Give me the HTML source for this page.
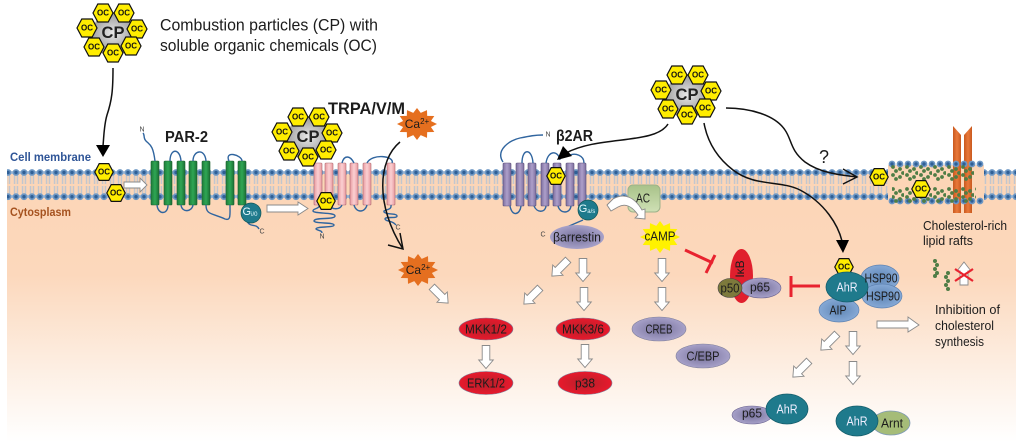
<!DOCTYPE html>
<html><head><meta charset="utf-8"><style>
html,body{margin:0;padding:0;background:#fff}
svg{display:block}
text{font-family:"Liberation Sans",sans-serif;text-anchor:middle;dominant-baseline:central;fill:#1c1c1c}
.oc{font-size:8px;font-weight:bold;fill:#111}
.cp{font-size:16.5px;font-weight:bold;fill:#222}
.l{text-anchor:start;dominant-baseline:auto}
.m{font-size:13px}
.hex{fill:#ffed00;stroke:#111;stroke-width:1.2}
.loop{fill:none;stroke:#30659f;stroke-width:1.4}
.bl{fill:none;stroke:#111;stroke-width:1.5}
.ar{fill:#fff;stroke:#8a8a8a;stroke-width:.9}
.tiny{font-size:7px;fill:#444}
</style></head><body>
<svg width="1024" height="442" viewBox="0 0 1024 442" xmlns="http://www.w3.org/2000/svg">
<defs>
<linearGradient id="cyt" x1="0" y1="0" x2="0" y2="1"><stop offset="0" stop-color="#fcd5b6"/><stop offset=".38" stop-color="#fcd8bc"/><stop offset=".72" stop-color="#fdeee2"/><stop offset="1" stop-color="#fff"/></linearGradient>
<radialGradient id="gray"><stop offset="0" stop-color="#e8e8e8"/><stop offset="1" stop-color="#9a9a9a"/></radialGradient>
<radialGradient id="red"><stop offset="0" stop-color="#b5202a"/><stop offset="1" stop-color="#e8192c"/></radialGradient>
<radialGradient id="pur"><stop offset="0" stop-color="#75709a"/><stop offset="1" stop-color="#a7a1c9"/></radialGradient>
<radialGradient id="blu"><stop offset="0" stop-color="#5f86b5"/><stop offset="1" stop-color="#86a9d6"/></radialGradient>
<linearGradient id="gr" x1="0" x2="1" y1="0" y2="0"><stop offset="0" stop-color="#1e7d3a"/><stop offset=".5" stop-color="#2fa654"/><stop offset="1" stop-color="#1a7034"/></linearGradient>
<linearGradient id="pk" x1="0" x2="1" y1="0" y2="0"><stop offset="0" stop-color="#e89aa0"/><stop offset=".5" stop-color="#fbd0d2"/><stop offset="1" stop-color="#e89aa0"/></linearGradient>
<linearGradient id="pp" x1="0" x2="1" y1="0" y2="0"><stop offset="0" stop-color="#7d6f9f"/><stop offset=".5" stop-color="#ad9fca"/><stop offset="1" stop-color="#7d6f9f"/></linearGradient>
<linearGradient id="org" x1="0" x2="1" y1="0" y2="0"><stop offset="0" stop-color="#c9591f"/><stop offset=".5" stop-color="#e9793a"/><stop offset="1" stop-color="#c9591f"/></linearGradient>
<linearGradient id="acg" x1="0" x2="0" y1="0" y2="1"><stop offset="0" stop-color="#a8c289"/><stop offset="1" stop-color="#cfe0b5"/></linearGradient>
<pattern id="lip" x="4" y="166" width="8" height="38" patternUnits="userSpaceOnUse">
<rect x="1.8" y="9" width="1.5" height="9" fill="#c2c6ce"/><rect x="4.7" y="9" width="1.5" height="9" fill="#c2c6ce"/>
<rect x="1.8" y="20" width="1.5" height="8" fill="#c2c6ce"/><rect x="4.7" y="20" width="1.5" height="8" fill="#c2c6ce"/>
<rect x="0" y="5" width="8" height="3" fill="#a9bfd8"/><rect x="0" y="29" width="8" height="3" fill="#a9bfd8"/>
<circle cx="4" cy="6.5" r="3.4" fill="#6d97c4"/><circle cx="4" cy="30.7" r="3.4" fill="#6d97c4"/>
<circle cx="4" cy="6.5" r="1.7" fill="#2f5f96"/><circle cx="4" cy="30.7" r="1.7" fill="#2f5f96"/>
</pattern>
<pattern id="raftT" x="888" y="160" width="8" height="8" patternUnits="userSpaceOnUse">
<circle cx="4" cy="4" r="3.4" fill="#6d97c4"/><circle cx="4" cy="4" r="1.7" fill="#2f5f96"/></pattern>
<pattern id="raftB" x="888" y="197" width="8" height="8" patternUnits="userSpaceOnUse">
<circle cx="4" cy="4" r="3.4" fill="#6d97c4"/><circle cx="4" cy="4" r="1.7" fill="#2f5f96"/></pattern>
<pattern id="chol1" x="890" y="165" width="14" height="18" patternUnits="userSpaceOnUse">
<g fill="#4f7d46"><circle cx="3" cy="2" r="1.9"/><circle cx="6" cy="6" r="1.9"/><circle cx="3" cy="10" r="1.9"/><circle cx="6" cy="14" r="1.9"/><circle cx="10" cy="4" r="1.9"/><circle cx="13" cy="8" r="1.9"/><circle cx="10" cy="12" r="1.9"/></g>
</pattern>
<pattern id="chol2" x="890" y="187" width="14" height="18" patternUnits="userSpaceOnUse">
<g fill="#4f7d46"><circle cx="3" cy="2" r="1.9"/><circle cx="6" cy="6" r="1.9"/><circle cx="3" cy="10" r="1.9"/><circle cx="6" cy="14" r="1.9"/><circle cx="10" cy="4" r="1.9"/><circle cx="13" cy="8" r="1.9"/><circle cx="10" cy="12" r="1.9"/></g>
</pattern>
<polygon id="h" points="9.2,0 4.8,8.4 -4.8,8.4 -9.2,0 -4.8,-8.4 4.8,-8.4"/>
<polygon id="hL" points="10,0 5.2,9 -5.2,9 -10,0 -5.2,-9 5.2,-9"/>
<polygon id="star" points="1,0 .695,.186 .866,.5 .509,.509 .5,.866 .186,.695 0,1 -.186,.695 -.5,.866 -.509,.509 -.866,.5 -.695,.186 -1,0 -.695,-.186 -.866,-.5 -.509,-.509 -.5,-.866 -.186,-.695 0,-1 .186,-.695 .5,-.866 .509,-.509 .866,-.5 .695,-.186"/>
<polygon id="d" points="-3.8,-11.5 3.8,-11.5 3.8,3 7.3,3 0,11.5 -7.3,3 -3.8,3"/>
<g id="cluster">
<polygon points="24,0 12,20 -12,20 -24,0 -12,-20 12,-20" fill="url(#gray)"/>
<use href="#hL" x="-10" y="-20" class="hex"/><use href="#hL" x="11" y="-20" class="hex"/><use href="#hL" x="24" y="-4" class="hex"/><use href="#hL" x="18" y="13" class="hex"/><use href="#hL" x="0" y="20" class="hex"/><use href="#hL" x="-19" y="14" class="hex"/><use href="#hL" x="-26" y="-5" class="hex"/>
</g>
</defs>

<rect width="1024" height="442" fill="#fff"/>
<rect x="7" y="172" width="1009" height="270" fill="url(#cyt)"/>
<rect x="7" y="166" width="1009" height="38" fill="url(#lip)"/>

<!-- raft -->
<rect x="888" y="165" width="96" height="39" fill="#fcd5b6"/>
<path d="M953,126 L961,135 L961,213 L953,213 Z" fill="url(#org)"/>
<path d="M972,126 L964,135 L964,213 L972,213 Z" fill="url(#org)"/>
<rect x="888" y="160" width="96" height="8" fill="url(#raftT)"/>
<rect x="888" y="197" width="96" height="8" fill="url(#raftB)"/>
<rect x="890" y="165" width="84" height="18" fill="url(#chol1)"/>
<rect x="892" y="187" width="84" height="18" fill="url(#chol2)"/>

<!-- membrane helices -->
<g stroke="#1d5f30" stroke-width=".6" fill="url(#gr)">
<rect x="151" y="161" width="8" height="44" rx="1"/><rect x="164" y="161" width="8" height="44" rx="1"/><rect x="177" y="161" width="8" height="44" rx="1"/><rect x="189" y="161" width="8" height="44" rx="1"/><rect x="202" y="161" width="8" height="44" rx="1"/><rect x="226" y="161" width="8" height="44" rx="1"/><rect x="238" y="161" width="8" height="44" rx="1"/>
</g>
<g stroke="#b06a70" stroke-width=".6" fill="url(#pk)">
<rect x="314" y="163" width="8" height="42" rx="1"/><rect x="325" y="163" width="8" height="42" rx="1"/><rect x="338" y="163" width="8" height="42" rx="1"/><rect x="350" y="163" width="8" height="42" rx="1"/><rect x="363" y="163" width="8" height="42" rx="1"/><rect x="387" y="163" width="8" height="42" rx="1"/>
</g>
<g stroke="#5a4f78" stroke-width=".6" fill="url(#pp)">
<rect x="503" y="163" width="8" height="43" rx="1"/><rect x="516" y="163" width="8" height="43" rx="1"/><rect x="528" y="163" width="8" height="43" rx="1"/><rect x="541" y="163" width="8" height="43" rx="1"/><rect x="553" y="163" width="8" height="43" rx="1"/><rect x="566" y="163" width="8" height="43" rx="1"/><rect x="578" y="163" width="8" height="43" rx="1"/>
</g>

<!-- loops -->
<g class="loop">
<path d="M155,161 C153,145 150,145 146,141 C143,138 145,135 143,133"/>
<path d="M170,161 C170,148 180,148 181,161"/><path d="M193,161 C193,150 205,148 206,161"/><path d="M229,161 C224,150 242,155 242,161"/>
<path d="M157,205 C158,215 168,215 168,205"/><path d="M181,205 C182,213 192,212 193,205"/><path d="M206,205 C206,215 212,213 225,219 C231,221 230,215 230,205"/>
<path d="M247,221 C250,228 256,223 259,229"/>
<path d="M342,163 C344,155 350,155 354,163"/><path d="M367,163 C372,153 395,156 392,163"/>
<path d="M329,205 C332,210 340,210 342,205"/><path d="M354,205 C356,213 365,213 367,205"/>
<path d="M391,205 C392,211 383,209 384,212 C386,215 397,213 397,216 C397,219 385,216 385,219 C386,222 392,220 396,225"/>
<path d="M320,205 C318,210 313,208 313,211 C314,214 335,212 335,216 C335,220 314,217 314,221 C315,224 334,222 334,225 C334,228 316,226 316,229 C318,231 322,230 322,233"/>
<path d="M503,162 C495,150 510,140 520,138 C530,136 535,135 543,135"/>
<path d="M522,163 C522,148 532,148 533,163"/><path d="M546,163 C548,150 558,150 560,160"/><path d="M570,155 C575,153 584,155 584,163"/>
<path d="M510,206 C512,217 520,215 521,206"/><path d="M534,206 C537,213 545,213 546,206"/><path d="M558,206 C560,214 570,214 571,206"/>
<path d="M583,220 L553,233"/>
</g>

<!-- labels -->
<text class="l" x="10" y="161" font-size="11.5" font-weight="bold" textLength="81" lengthAdjust="spacingAndGlyphs" style="fill:#2f5597">Cell membrane</text>
<text class="l" x="10" y="216" font-size="11.5" font-weight="bold" textLength="61" lengthAdjust="spacingAndGlyphs" style="fill:#a5521f">Cytosplasm</text>
<text class="l" x="165" y="142" font-size="15.5" font-weight="bold" textLength="43" lengthAdjust="spacingAndGlyphs">PAR-2</text>
<text class="l" x="328" y="114" font-size="17" font-weight="bold" textLength="77" lengthAdjust="spacingAndGlyphs">TRPA/V/M</text>
<text class="l" x="556" y="141" font-size="15.5" font-weight="bold" textLength="37" lengthAdjust="spacingAndGlyphs">β2AR</text>
<text class="l" x="160" y="30.5" font-size="16.5" textLength="218" lengthAdjust="spacingAndGlyphs">Combustion particles (CP) with</text>
<text class="l" x="160" y="51" font-size="16.5" textLength="217" lengthAdjust="spacingAndGlyphs">soluble organic chemicals (OC)</text>
<text x="142" y="130" class="tiny">N</text><text x="262" y="232" class="tiny">C</text><text x="322" y="237" class="tiny">N</text><text x="398" y="228" class="tiny">C</text><text x="548" y="135" class="tiny">N</text><text x="543" y="235" class="tiny">C</text>

<!-- black connectors -->
<path class="bl" d="M113,68 C113,90 112,100 107,115 C104,125 104,135 103,146"/>
<polygon points="96,145 110,145 103,157" fill="#000"/>
<path class="bl" d="M400,142 C378,160 375,205 403,249"/>
<path class="bl" d="M388,245 L403,249 L400,233"/>
<path class="bl" d="M668,124 C655,145 600,135 566,153"/>
<polygon points="557,160 563,146 572,156" fill="#000"/>
<path class="bl" d="M704,123 C708,145 720,160 733,170 C755,187 780,180 800,190 C825,203 838,225 842,241"/>
<polygon points="836,240 849,240 843,253" fill="#000"/>
<path class="bl" d="M726,108 C750,108 775,115 785,130 C792,140 790,150 805,162 C820,173 840,175 857,177"/>
<path class="bl" d="M843,169 L857,177 L843,184"/>
<text x="824" y="157" font-size="18">?</text>

<!-- clusters -->
<g transform="translate(113,33)"><use href="#cluster"/><text class="cp">CP</text>
<text class="oc" x="-10" y="-20">OC</text><text class="oc" x="11" y="-20">OC</text><text class="oc" x="24" y="-4">OC</text><text class="oc" x="18" y="13">OC</text><text class="oc" x="0" y="20">OC</text><text class="oc" x="-19" y="14">OC</text><text class="oc" x="-26" y="-5">OC</text></g>
<g transform="translate(308,137)"><use href="#cluster"/><text class="cp">CP</text>
<text class="oc" x="-10" y="-20">OC</text><text class="oc" x="11" y="-20">OC</text><text class="oc" x="24" y="-4">OC</text><text class="oc" x="18" y="13">OC</text><text class="oc" x="0" y="20">OC</text><text class="oc" x="-19" y="14">OC</text><text class="oc" x="-26" y="-5">OC</text></g>
<g transform="translate(687,95)"><use href="#cluster"/><text class="cp">CP</text>
<text class="oc" x="-10" y="-20">OC</text><text class="oc" x="11" y="-20">OC</text><text class="oc" x="24" y="-4">OC</text><text class="oc" x="18" y="13">OC</text><text class="oc" x="0" y="20">OC</text><text class="oc" x="-19" y="14">OC</text><text class="oc" x="-26" y="-5">OC</text></g>

<!-- single OC -->
<use href="#h" x="104" y="172" class="hex"/><text class="oc" x="104" y="172">OC</text>
<use href="#h" x="116" y="193" class="hex"/><text class="oc" x="116" y="193">OC</text>
<use href="#h" x="326" y="201" class="hex"/><text class="oc" x="326" y="201">OC</text>
<use href="#h" x="556" y="176" class="hex"/><text class="oc" x="556" y="176">OC</text>
<use href="#h" x="879" y="177" class="hex"/><text class="oc" x="879" y="177">OC</text>
<use href="#h" x="921" y="189" class="hex"/><text class="oc" x="921" y="189">OC</text>
<use href="#h" x="844" y="267" class="hex"/><text class="oc" x="844" y="267">OC</text>

<!-- G proteins -->
<circle cx="251" cy="213" r="10" fill="#1f7a8c" stroke="#155" stroke-width=".7"/><text x="250" y="212" font-size="11" style="fill:#e6fbff">G<tspan font-size="6" dy="3">i/0</tspan></text>
<circle cx="588" cy="210" r="10" fill="#1f7a8c" stroke="#155" stroke-width=".7"/><text x="587" y="209" font-size="11" style="fill:#e6fbff">G<tspan font-size="6" dy="3">a/s</tspan></text>

<ellipse cx="577" cy="237" rx="27" ry="12" fill="url(#pur)"/><text x="577" y="237" class="m" textLength="48" lengthAdjust="spacingAndGlyphs">βarrestin</text>
<rect x="628" y="185" width="32" height="27" rx="5" fill="url(#acg)" stroke="#9db28a"/><text x="643" y="198" class="m" textLength="14" lengthAdjust="spacingAndGlyphs">AC</text>
<path d="M607,205 L613,199 C625,192 635,198 642,210 L645,209 L645,219 L635,218 L638,215 C632,206 625,203 618,207 L611,211 Z" class="ar"/>

<use href="#star" transform="translate(660,237) scale(20,16)" fill="#fff200"/>
<text x="660" y="236" class="m" textLength="31" lengthAdjust="spacingAndGlyphs">cAMP</text>
<use href="#star" transform="translate(417,124) scale(20,16)" fill="#e56f1f"/>
<text x="417" y="124" font-size="12">Ca<tspan font-size="8" dy="-3">2+</tspan></text>
<use href="#star" transform="translate(418,270) scale(20,16)" fill="#e56f1f"/>
<text x="418" y="270" font-size="12">Ca<tspan font-size="8" dy="-3">2+</tspan></text>

<!-- block arrows -->
<use href="#d" class="ar" transform="translate(440,295) rotate(-45)"/>
<use href="#d" class="ar" transform="translate(560,268) rotate(45)"/>
<use href="#d" class="ar" transform="translate(532,296) rotate(45)"/>
<use href="#d" class="ar" transform="translate(583,270)"/>
<use href="#d" class="ar" transform="translate(584,299)"/>
<use href="#d" class="ar" transform="translate(662,270)"/>
<use href="#d" class="ar" transform="translate(662,299)"/>
<use href="#d" class="ar" transform="translate(486,357)"/>
<use href="#d" class="ar" transform="translate(585,356)"/>
<use href="#d" class="ar" transform="translate(829,342) rotate(45)"/>
<use href="#d" class="ar" transform="translate(853,343)"/>
<use href="#d" class="ar" transform="translate(801,369) rotate(45)"/>
<use href="#d" class="ar" transform="translate(853,373)"/>
<polygon class="ar" points="877,321 908,321 908,317 919,325 908,332 908,328 877,328"/>
<polygon class="ar" points="124,182 140,182 140,178 147,185 140,192 140,188 124,188"/>
<polygon class="ar" points="267,205 298,205 298,202 308,208.5 298,215 298,212 267,212"/>

<!-- oval nodes -->
<g stroke="#7f7f9a" stroke-width=".6">
<ellipse cx="486" cy="329" rx="27" ry="11" fill="url(#red)"/><ellipse cx="486" cy="383" rx="27" ry="11.5" fill="url(#red)"/><ellipse cx="583" cy="329" rx="27" ry="11" fill="url(#red)"/><ellipse cx="585" cy="383" rx="27" ry="11.5" fill="url(#red)"/>
<ellipse cx="659" cy="329" rx="27" ry="12" fill="url(#pur)"/><ellipse cx="703" cy="356" rx="27" ry="12" fill="url(#pur)"/>
</g>
<text x="486" y="329" class="m" textLength="42" lengthAdjust="spacingAndGlyphs">MKK1/2</text><text x="486" y="383" class="m" textLength="38" lengthAdjust="spacingAndGlyphs">ERK1/2</text><text x="583" y="329" class="m" textLength="42" lengthAdjust="spacingAndGlyphs">MKK3/6</text><text x="585" y="383" class="m" textLength="20" lengthAdjust="spacingAndGlyphs">p38</text><text x="659" y="329" class="m" textLength="27" lengthAdjust="spacingAndGlyphs">CREB</text><text x="703" y="356" class="m" textLength="33" lengthAdjust="spacingAndGlyphs">C/EBP</text>

<!-- NF-kB -->
<ellipse cx="741.5" cy="276" rx="11.5" ry="27" fill="#e01f2d"/>
<text x="740" y="269" font-size="12" transform="rotate(-90 740 269)">IκB</text>
<ellipse cx="761" cy="288" rx="20" ry="10" fill="url(#pur)" stroke="#6a6390" stroke-width=".6"/><text x="760" y="287" class="m" textLength="20" lengthAdjust="spacingAndGlyphs">p65</text>
<ellipse cx="730" cy="288" rx="12" ry="9.5" fill="#7d7a3c" stroke="#444" stroke-width=".6"/><text x="730" y="288" class="m" textLength="19" lengthAdjust="spacingAndGlyphs">p50</text>
<g stroke="#e8232f" stroke-width="3" fill="none"><path d="M685,250 L713,263"/><path d="M715,255 L706,273"/><path d="M791,286 L820,286"/><path d="M791,276 L791,297"/></g>

<!-- AhR complex -->
<g stroke="#5f84b3" stroke-width=".7">
<ellipse cx="880" cy="278" rx="19" ry="13" fill="url(#blu)"/><ellipse cx="882" cy="296" rx="20" ry="12" fill="url(#blu)"/><ellipse cx="839" cy="310" rx="20" ry="12" fill="url(#blu)"/></g>
<ellipse cx="847" cy="287" rx="21" ry="15" fill="#1f7a8c" stroke="#155e6c" stroke-width=".8"/>
<text x="847" y="287" class="m" style="fill:#eef" textLength="21" lengthAdjust="spacingAndGlyphs">AhR</text><text x="881" y="278" class="m" textLength="33" lengthAdjust="spacingAndGlyphs">HSP90</text><text x="883" y="296" class="m" textLength="34" lengthAdjust="spacingAndGlyphs">HSP90</text><text x="838" y="310" class="m" textLength="17" lengthAdjust="spacingAndGlyphs">AIP</text>

<!-- bottom complexes -->
<ellipse cx="752" cy="415" rx="20" ry="9" fill="url(#pur)" stroke="#6a6390" stroke-width=".6"/><text x="752" y="413" class="m" textLength="20" lengthAdjust="spacingAndGlyphs">p65</text>
<ellipse cx="787" cy="409" rx="21" ry="15" fill="#1f7a8c" stroke="#155e6c" stroke-width=".8"/><text x="787" y="409" class="m" style="fill:#eef" textLength="21" lengthAdjust="spacingAndGlyphs">AhR</text>
<ellipse cx="891" cy="423" rx="19" ry="12" fill="#a5bc78" stroke="#7f9ab5" stroke-width=".8"/><text x="892" y="423" class="m" textLength="22" lengthAdjust="spacingAndGlyphs">Arnt</text>
<ellipse cx="857" cy="421" rx="21" ry="15" fill="#1f7a8c" stroke="#155e6c" stroke-width=".8"/><text x="857" y="421" class="m" style="fill:#eef" textLength="21" lengthAdjust="spacingAndGlyphs">AhR</text>

<!-- cholesterol text and marks -->
<text class="l" x="923" y="230" font-size="13" textLength="84" lengthAdjust="spacingAndGlyphs">Cholesterol-rich</text>
<text class="l" x="923" y="245" font-size="13" textLength="50" lengthAdjust="spacingAndGlyphs">lipid rafts</text>
<text class="l" x="935" y="314" font-size="13" textLength="65" lengthAdjust="spacingAndGlyphs">Inhibition of</text>
<text class="l" x="935" y="330" font-size="13" textLength="59" lengthAdjust="spacingAndGlyphs">cholesterol</text>
<text class="l" x="935" y="346" font-size="13" textLength="49" lengthAdjust="spacingAndGlyphs">synthesis</text>
<g fill="#4f7d46"><circle cx="935" cy="261" r="2"/><circle cx="937" cy="265" r="2"/><circle cx="935" cy="269" r="2"/><circle cx="937" cy="273" r="2"/><circle cx="935" cy="276" r="2"/><circle cx="948" cy="273" r="2"/><circle cx="946" cy="277" r="2"/><circle cx="948" cy="281" r="2"/><circle cx="946" cy="285" r="2"/><circle cx="948" cy="289" r="2"/></g>
<polygon class="ar" points="964,262 971,271 968,271 968,285 960,285 960,271 957,271"/>
<g stroke="#e8232f" stroke-width="2.2"><path d="M955,269 L973,281"/><path d="M973,269 L955,281"/></g>
</svg>
</body></html>
